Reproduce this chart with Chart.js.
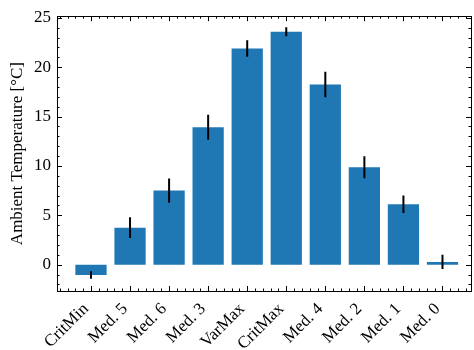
<!DOCTYPE html>
<html><head><meta charset="utf-8">
<script src="https://cdn.jsdelivr.net/npm/chart.js@4/dist/chart.umd.min.js"></script>
<style>html,body{margin:0;padding:0;background:#fff}#wrap{width:474px;height:350px}</style>
</head><body><div id="wrap"><canvas id="c" width="474" height="350"></canvas></div>
<script>
const categories = ['CritMin','Med. 5','Med. 6','Med. 3','VarMax','CritMax','Med. 4','Med. 2','Med. 1','Med. 0'];
const temperatures = [-1.05, 3.75, 7.5, 13.92, 21.9, 23.6, 18.25, 9.87, 6.12, 0.27];
const errors = [0.38, 1.05, 1.22, 1.27, 0.84, 0.46, 1.3, 1.12, 0.89, 0.72];
const yTicks = [0, 5, 10, 15, 20, 25];
const yTitle = 'Ambient Temperature [°C]';

const FONT = 'Liberation Serif';

const frameTicks = {
  id: 'frameTicks',
  afterDatasetsDraw(chart) {
    const {ctx, chartArea: a, scales: {x, y}} = chart;
    ctx.save();
    // error bars
    ctx.strokeStyle = '#000';
    ctx.lineWidth = 2;
    ctx.beginPath();
    temperatures.forEach((v, i) => {
      const px = x.getPixelForValue(i);
      ctx.moveTo(px, y.getPixelForValue(v + errors[i]));
      ctx.lineTo(px, y.getPixelForValue(v - errors[i]));
    });
    ctx.stroke();
    // ticks
    ctx.lineWidth = 1;
    ctx.beginPath();
    for (let k = Math.ceil(x.min * 5); k <= Math.floor(x.max * 5); k++) {
      const v = k / 5;
      const major = k % 5 === 0 && v >= 0 && v < categories.length;
      const px = Math.round(x.getPixelForValue(v)) + 0.5;
      const L = major ? 5 : 2.5;
      ctx.moveTo(px, a.bottom); ctx.lineTo(px, a.bottom - L);
      ctx.moveTo(px, a.top); ctx.lineTo(px, a.top + L);
    }
    for (let v = Math.ceil(y.min); v <= Math.floor(y.max); v++) {
      const major = v % 5 === 0;
      const py = Math.round(y.getPixelForValue(v)) + 0.5;
      const L = major ? 5 : 2.5;
      ctx.moveTo(a.left, py); ctx.lineTo(a.left + L, py);
      ctx.moveTo(a.right, py); ctx.lineTo(a.right - L, py);
    }
    ctx.stroke();
    ctx.strokeRect(Math.round(a.left) + 0.5, Math.round(a.top) + 0.5,
                   Math.round(a.right) - Math.round(a.left), Math.round(a.bottom) - Math.round(a.top));
    ctx.restore();
  }
};

new Chart(document.getElementById('c'), {
  type: 'bar',
  data: {
    datasets: [{
      data: categories.map((c, i) => ({x: i, y: temperatures[i]})),
      backgroundColor: '#1f77b4',
      borderWidth: 0,
      barPercentage: 0.8,
      categoryPercentage: 1.0
    }]
  },
  options: {
    responsive: false,
    animation: false,
    devicePixelRatio: 1,
    layout: {padding: {top: 9, right: 3, left: 0, bottom: 0}},
    plugins: {legend: {display: false}, tooltip: {enabled: false}},
    scales: {
      x: {
        type: 'linear',
        min: -0.87, max: 9.73,
        offset: false,
        afterBuildTicks: s => { s.ticks = categories.map((c, i) => ({value: i})); },
        afterFit: s => { s.height = 59; },
        ticks: {
          autoSkip: false, maxRotation: 45, minRotation: 45,
          callback: v => categories[v],
          font: {family: FONT, size: 17}, color: '#000', padding: 8, labelOffset: -5
        },
        grid: {display: false, drawTicks: false},
        border: {display: false}
      },
      y: {
        min: -2.67, max: 25.17,
        afterBuildTicks: s => { s.ticks = yTicks.map(v => ({value: v})); },
        afterFit: s => { s.width = 57; },
        ticks: {font: {family: FONT, size: 17}, color: '#000', padding: 6},
        title: {display: true, text: yTitle, font: {family: FONT, size: 17}, color: '#000', padding: {top: 7, bottom: 0}},
        grid: {display: false, drawTicks: false},
        border: {display: false}
      }
    }
  },
  plugins: [frameTicks]
});
</script>
</body></html>
